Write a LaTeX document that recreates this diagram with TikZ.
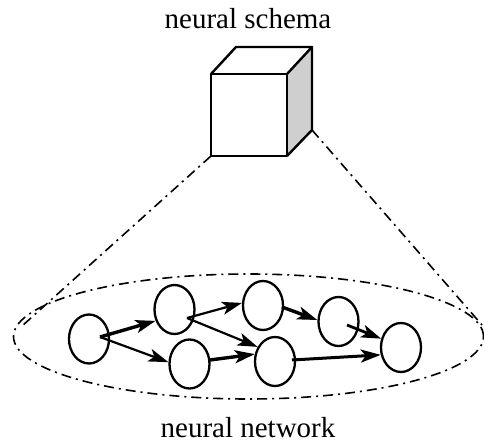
\documentclass[tikz,border=0pt]{standalone}
\usepackage{fontspec}
\setmainfont{Liberation Serif}
\usetikzlibrary{shapes.geometric,arrows.meta,calc}
\begin{document}
\begin{tikzpicture}[x=1pt,y=-1pt,
  neuron/.style={draw,ellipse,line width=2.3pt,minimum width=40pt,minimum height=49pt,inner sep=0pt},
  link/.style={-{Stealth[length=20pt,width=13pt,inset=5pt]},line width=2.2pt},
  thicklink/.style={link,line width=3.4pt},
  zoomline/.style={line width=1.6pt,dash pattern=on 10pt off 5pt on 2pt off 5pt},
  cube/.style={line width=2.4pt,line join=round},
  label/.style={font=\fontsize{29}{34}\selectfont,anchor=base,inner sep=0pt}]
\useasboundingbox (0,0) rectangle (484,443);
% texts
\node[label] (schema) at (248,29) {neural schema};
\node[label] (network) at (248,437) {neural network};
% cube
\coordinate (fbl) at (211,156);
\coordinate (fbr) at (287,156);
\coordinate (ftl) at (211,74);
\coordinate (ftr) at (287,74);
\coordinate (btl) at (236,47);
\coordinate (btr) at (312,47);
\coordinate (bbr) at (312,130);
\fill[gray!38] (ftr) -- (btr) -- (bbr) -- (fbr) -- cycle;
\draw[cube] (fbl) rectangle (ftr);
\draw[cube] (ftl) -- (btl) -- (btr) -- (ftr);
\draw[cube] (btr) -- (bbr) -- (fbr);
% big dashed ellipse
\node[draw,ellipse,zoomline,minimum width=470pt,minimum height=125pt,inner sep=0pt] (cloud) at (248.5,336.5) {};
% projection lines
\coordinate (lend) at (22,326);
\coordinate (rend) at (482,325);
\draw[zoomline] (fbl) -- (lend);
\draw[zoomline] (bbr) -- (rend);
% neurons
\node[neuron] (n1) at (89,339) {};
\node[neuron] (n2) at (174.5,309.5) {};
\node[neuron] (n3) at (189.5,364) {};
\node[neuron] (n4) at (263,305.5) {};
\node[neuron] (n5) at (275,361.5) {};
\node[neuron] (n6) at (338.5,321.5) {};
\node[neuron] (n7) at (401,347.5) {};
% connections
\draw[thicklink] ($(n1.center)+(11,-2)$) -- (n2.211);
\draw[link] ($(n1.center)+(11,-2)$) -- (n3.175);
\draw[link] ($(n2.center)+(12.5,8.5)$) -- (n4.173);
\draw[link] ($(n2.center)+(12.5,8.5)$) -- (n5.140);
\draw[thicklink] ($(n3.center)+(20.5,-4)$) -- (n5.160);
\draw[thicklink] ($(n4.center)+(19,1.5)$) -- (n6.176);
\draw[link,line width=2.8pt] ($(n6.center)+(8.5,3.5)$) -- (n7.156);
\draw[link,line width=3pt] ($(n5.center)+(17,-1.5)$) -- (n7.200);
\end{tikzpicture}
\end{document}
